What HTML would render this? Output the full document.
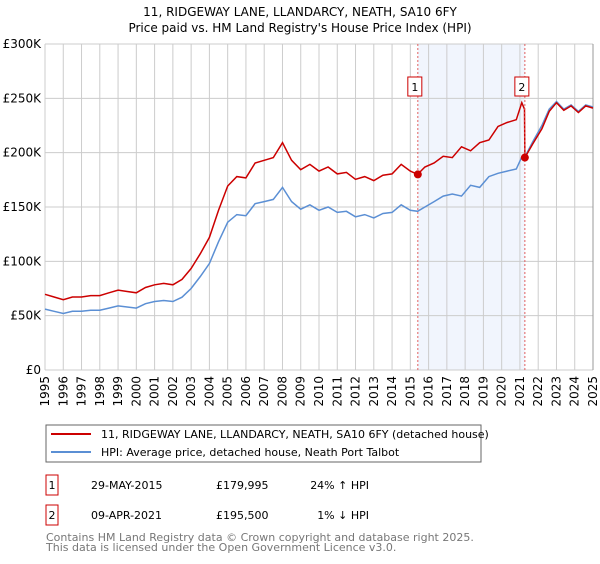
<!DOCTYPE html>
<html><head><meta charset="utf-8"><style>
body{margin:0;background:#fff;width:600px;height:560px;overflow:hidden;font-family:"DejaVu Sans","Liberation Sans",sans-serif;}
svg text{font-family:"DejaVu Sans","Liberation Sans",sans-serif;}
</style></head><body>
<svg id="chart" width="600" height="560" viewBox="0 0 600 560" xmlns="http://www.w3.org/2000/svg">
<text x="300" y="16" text-anchor="middle" font-size="12" fill="#000">11, RIDGEWAY LANE, LLANDARCY, NEATH, SA10 6FY</text>
<text x="300" y="32" text-anchor="middle" font-size="12" fill="#000">Price paid vs. HM Land Registry's House Price Index (HPI)</text>
<g id="shade"></g><g id="grid"></g><g id="axes"></g><g id="series"></g><g id="marks"></g>
<rect x="46" y="425" width="435" height="37" fill="#fff" stroke="#666"/>
<line x1="51" y1="434" x2="91" y2="434" stroke="#cc0000" stroke-width="2"/>
<text x="101" y="438" font-size="11">11, RIDGEWAY LANE, LLANDARCY, NEATH, SA10 6FY (detached house)</text>
<line x1="51" y1="452" x2="91" y2="452" stroke="#5b8fd4" stroke-width="2"/>
<text x="101" y="456" font-size="11">HPI: Average price, detached house, Neath Port Talbot</text>
<rect x="46" y="475" width="12" height="20" fill="#fff" stroke="#cc0000"/>
<text x="52" y="489" text-anchor="middle" font-size="11">1</text>
<text x="91" y="489" font-size="11">29-MAY-2015</text>
<text x="216" y="489" font-size="11">£179,995</text>
<text x="369" y="489" text-anchor="end" font-size="11">24% ↑ HPI</text>
<rect x="46" y="505" width="12" height="20" fill="#fff" stroke="#cc0000"/>
<text x="52" y="519" text-anchor="middle" font-size="11">2</text>
<text x="91" y="519" font-size="11">09-APR-2021</text>
<text x="216" y="519" font-size="11">£195,500</text>
<text x="369" y="519" text-anchor="end" font-size="11">1% ↓ HPI</text>
<text x="46" y="541" font-size="11" fill="#777">Contains HM Land Registry data © Crown copyright and database right 2025.</text>
<text x="46" y="551" font-size="11" fill="#777">This data is licensed under the Open Government Licence v3.0.</text>
</svg>
<script>
const hpiYears=[1995,1995.5,1996,1996.5,1997,1997.5,1998,1998.5,1999,1999.5,2000,2000.5,2001,2001.5,2002,2002.5,2003,2003.5,2004,2004.5,2005,2005.5,2006,2006.5,2007,2007.5,2008,2008.5,2009,2009.5,2010,2010.5,2011,2011.5,2012,2012.5,2013,2013.5,2014,2014.5,2015,2015.4,2015.8,2016.3,2016.8,2017.3,2017.8,2018.3,2018.8,2019.3,2019.8,2020.3,2020.8,2021.1,2021.3,2021.7,2022.2,2022.6,2023.0,2023.4,2023.8,2024.2,2024.6,2025.0];
const hpiValues=[56,54,52,54,54,55,55,57,59,58,57,61,63,64,63,67,75,86,98,118,136,143,142,153,155,157,168,155,148,152,147,150,145,146,141,143,140,144,145,152,147,146,150,155,160,162,160,170,168,178,181,183,185,196,197,210,225,240,247,240,244,238,244,242];
const redYears=[1995,1995.5,1996,1996.5,1997,1997.5,1998,1998.5,1999,1999.5,2000,2000.5,2001,2001.5,2002,2002.5,2003,2003.5,2004,2004.5,2005,2005.5,2006,2006.5,2007,2007.5,2008,2008.5,2009,2009.5,2010,2010.5,2011,2011.5,2012,2012.5,2013,2013.5,2014,2014.5,2015,2015.4,2015.8,2016.3,2016.8,2017.3,2017.8,2018.3,2018.8,2019.3,2019.8,2020.3,2020.8,2021.1,2021.25,2021.27,2021.7,2022.2,2022.6,2023.0,2023.4,2023.8,2024.2,2024.6,2025.0];
const redValues=[69.7,67.2,64.7,67.2,67.2,68.5,68.5,71,73.5,72.2,71,75.9,78.4,79.7,78.4,83.4,93.4,107,122,146.9,169.3,178,176.8,190.5,193,195.5,209.2,193,184.3,189.2,183,186.8,180.5,181.8,175.5,178,174.3,179.3,180.5,189.2,183,180,186.8,190.5,196.7,195.5,205.4,201.7,209.2,211.7,224.1,227.8,230.3,246,240,195.5,208,222,238,246,239,243,237,243,241];
const saleYears=[2015.41,2021.27];
const salePrices=[179.995,195.5];
const saleLabels=["1","2"];
const yTicks=[0,50,100,150,200,250,300];
const yTickLabels=["£0","£50K","£100K","£150K","£200K","£250K","£300K"];
const xTicks=[];for(let y=1995;y<=2025;y++)xTicks.push(y);
const NS="http://www.w3.org/2000/svg";
const X0=45,X1=593,Y0=370,Y1=44;
const xs=y=>X0+(y-1995)/30*(X1-X0);
const ys=v=>Y0-v/300*(Y0-Y1);
function mk(t,a,p){const e=document.createElementNS(NS,t);for(const k in a)e.setAttribute(k,a[k]);p.appendChild(e);return e;}
const grid=document.getElementById('grid'),axes=document.getElementById('axes'),ser=document.getElementById('series'),marks=document.getElementById('marks'),shade=document.getElementById('shade');
const sh=mk('rect',{x:xs(saleYears[0]),y:Y1,width:xs(saleYears[1])-xs(saleYears[0]),height:Y0-Y1,fill:'#eef3fd',opacity:0.8},shade);


yTicks.forEach((v,i)=>{
 const l=mk('line',{x1:X0,x2:X1,y1:ys(v),y2:ys(v),stroke:'#ccc','stroke-width':1},grid);
 
 
 const t=mk('text',{x:X0-4,y:ys(v)+4,'text-anchor':'end','font-size':12},axes);
 t.textContent=yTickLabels[i];
 
 
});
xTicks.forEach(y=>{
 const l=mk('line',{x1:xs(y),x2:xs(y),y1:Y1,y2:Y0,stroke:'#ccc','stroke-width':1},grid);
 
 
 const t=mk('text',{x:0,y:0,'text-anchor':'end','font-size':12,transform:`translate(${xs(y)+4},${Y0+6}) rotate(-90)`},axes);
 t.textContent=y;
 
 
});
const rb=mk('line',{x1:X1,x2:X1,y1:Y1,y2:Y0,stroke:'#999','stroke-width':1},grid);


function path(xa,va){return xa.map((y,i)=>(i?'L':'M')+xs(y).toFixed(1)+','+ys(va[i]).toFixed(1)).join('');}
const hp=mk('path',{d:path(hpiYears,hpiValues),fill:'none',stroke:'#5b8fd4','stroke-width':1.5},ser);


const rp=mk('path',{d:path(redYears,redValues),fill:'none',stroke:'#cc0000','stroke-width':1.5},ser);


saleYears.forEach((y,i)=>{
 const l=mk('line',{x1:xs(y),x2:xs(y),y1:Y1,y2:Y0,stroke:'#e06060','stroke-dasharray':'2,2','stroke-width':1},marks);
 
 
 const c=mk('circle',{cx:xs(y),cy:ys(salePrices[i]),r:4,fill:'#cc0000'},marks);
 
 
 const r=mk('rect',{x:xs(y)-10,y:77,width:14,height:19,fill:'#fff',stroke:'#cc0000'},marks);
 
 
 const t=mk('text',{x:xs(y)-3,y:91,'text-anchor':'middle','font-size':11},marks);
 t.textContent=saleLabels[i];
 
 
});
</script>
</body></html>
